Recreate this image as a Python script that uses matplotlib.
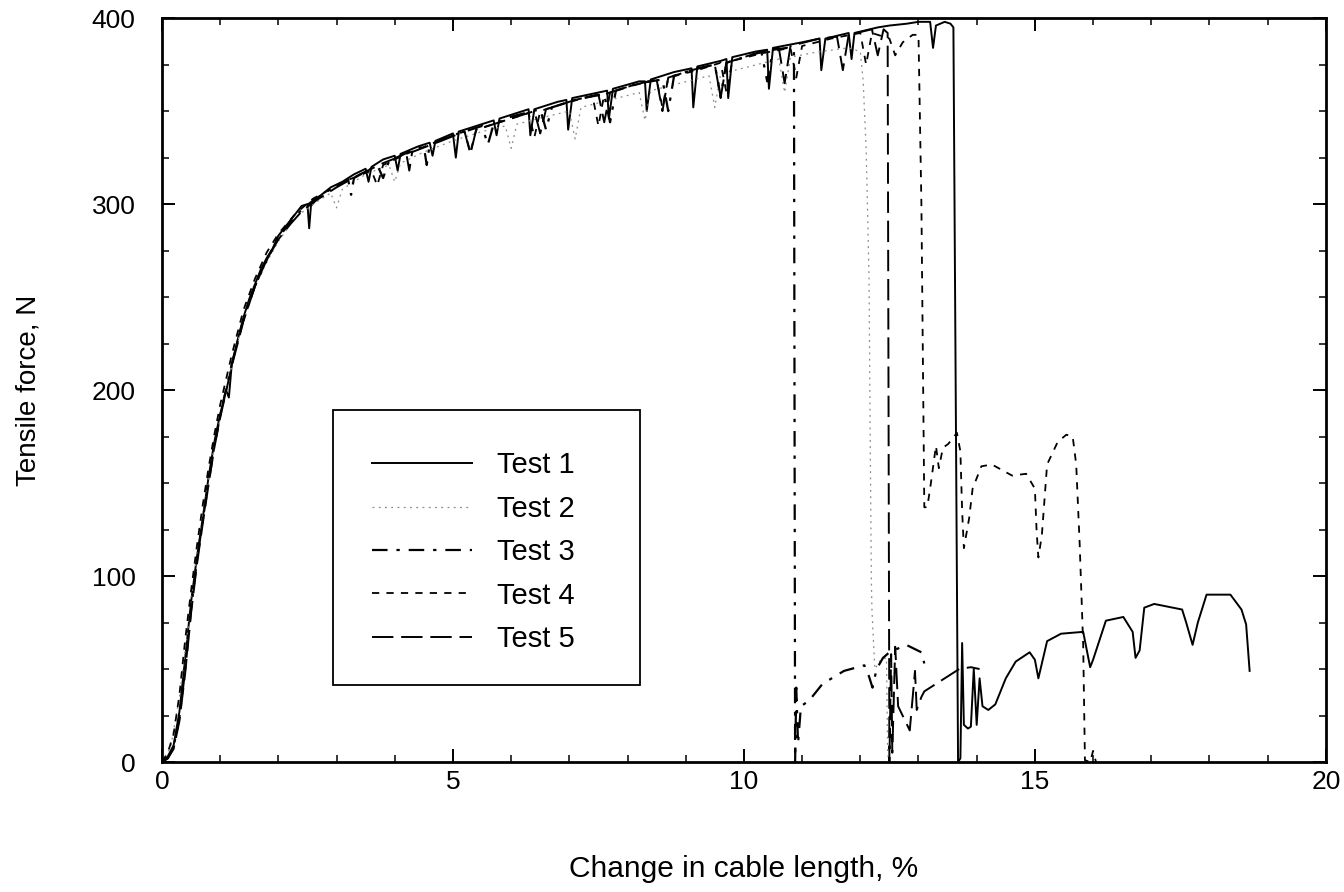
import matplotlib
matplotlib.use("Agg")
import matplotlib.pyplot as plt
from matplotlib.patches import Rectangle
import numpy as np

plt.rcParams['font.family'] = ['Liberation Sans', 'DejaVu Sans']

# values: [change in length %, force N]
test1 = np.array([
    [0, 0], [0.1, 3], [0.2, 9], [0.3, 27], [0.4, 56], [0.5, 86], [0.6, 110], [0.7, 131],
    [0.8, 153], [0.9, 172], [1.0, 187], [1.1, 200], [1.15, 196], [1.2, 214], [1.3, 227],
    [1.4, 239], [1.5, 249], [1.6, 257], [1.7, 265], [1.8, 271], [1.9, 276], [2.0, 283],
    [2.2, 291], [2.4, 299], [2.5, 300], [2.53, 287], [2.56, 299], [2.7, 304], [2.9, 309],
    [3.1, 312], [3.3, 316], [3.5, 319], [3.55, 312], [3.6, 320], [3.8, 324], [4.0, 326],
    [4.05, 318], [4.1, 327], [4.4, 331], [4.6, 333], [4.65, 326], [4.7, 334], [5.0, 338],
    [5.05, 325], [5.1, 339], [5.4, 342], [5.7, 345], [5.75, 337], [5.8, 346], [6.2, 350],
    [6.3, 351], [6.33, 337], [6.4, 351], [6.8, 355], [6.95, 356], [6.98, 340], [7.05, 357],
    [7.5, 360], [7.65, 361], [7.68, 346], [7.75, 362], [8.2, 366], [8.3, 366], [8.33, 350],
    [8.4, 367], [8.8, 371], [9.1, 373], [9.13, 352], [9.2, 374], [9.6, 377], [9.7, 378],
    [9.73, 357], [9.8, 379], [10.2, 382], [10.4, 383], [10.43, 362], [10.5, 384], [11.0, 387],
    [11.3, 389], [11.33, 372], [11.4, 389], [11.8, 392], [11.85, 378], [11.9, 392], [12.3, 395],
    [12.5, 396], [12.8, 397], [13.0, 398], [13.2, 398], [13.25, 384], [13.3, 396], [13.45, 398],
    [13.55, 397], [13.6, 395], [13.68, 0], [13.72, 2], [13.75, 64], [13.78, 20], [13.85, 18],
    [13.9, 19], [13.95, 50], [14.0, 20], [14.05, 45], [14.1, 30], [14.2, 28], [14.32, 31],
    [14.5, 45], [14.67, 54], [14.91, 59], [15.0, 55], [15.06, 45], [15.21, 65], [15.45, 69],
    [15.83, 70], [15.95, 51], [16.0, 55], [16.22, 76], [16.52, 78], [16.68, 70], [16.73, 56],
    [16.8, 60], [16.88, 83], [17.05, 85], [17.53, 82], [17.6, 75], [17.71, 63], [17.8, 75],
    [17.95, 90], [18.36, 90], [18.55, 82], [18.63, 74], [18.69, 49]])

test2 = np.array([
    [0, 0], [0.15, 8], [0.3, 35], [0.45, 72], [0.6, 112], [0.75, 142], [0.9, 170], [1.1, 199],
    [1.3, 226], [1.5, 247], [1.7, 263], [2.0, 280], [2.3, 293], [2.6, 300], [2.9, 306],
    [3.0, 298], [3.1, 308], [3.5, 316], [3.9, 321], [4.0, 312], [4.1, 322], [4.5, 328],
    [5.0, 334], [5.5, 339], [5.9, 342], [6.0, 330], [6.1, 343], [6.6, 347], [7.0, 350],
    [7.1, 335], [7.2, 352], [7.7, 356], [8.2, 360], [8.3, 345], [8.4, 361], [8.9, 365],
    [9.4, 369], [9.5, 352], [9.6, 370], [10.1, 374], [10.6, 378], [10.7, 360], [10.8, 379],
    [11.3, 382], [11.8, 384], [12.0, 382], [12.05, 366], [12.1, 330], [12.13, 290],
    [12.15, 260], [12.17, 175], [12.19, 98], [12.2, 82], [12.25, 50], [12.35, 55],
    [12.45, 56], [12.47, 4], [12.5, 0]])

test3 = np.array([
    [0, 0], [0.1, 2], [0.2, 8], [0.3, 24], [0.4, 50], [0.5, 82], [0.6, 108], [0.7, 130],
    [0.8, 150], [0.9, 170], [1.0, 186], [1.2, 214], [1.4, 238], [1.6, 256], [1.8, 270],
    [2.0, 282], [2.2, 290], [2.4, 297], [2.6, 302], [2.8, 306], [3.0, 310], [3.2, 313],
    [3.25, 305], [3.3, 314], [3.7, 321], [3.8, 314], [3.9, 323], [4.3, 329], [4.5, 331],
    [4.55, 321], [4.6, 332], [5.0, 337], [5.5, 342], [5.6, 332], [5.7, 343], [6.0, 347],
    [6.5, 351], [6.6, 340], [6.7, 352], [7.2, 357], [7.6, 359], [7.7, 344], [7.8, 361],
    [8.2, 365], [8.6, 367], [8.7, 350], [8.8, 369], [9.2, 373], [9.5, 375], [9.6, 358],
    [9.7, 376], [10.0, 379], [10.3, 382], [10.4, 366], [10.5, 383], [10.75, 384], [10.86, 383],
    [10.88, 0], [10.9, 40], [10.93, 10], [10.98, 30], [11.12, 33], [11.35, 42], [11.72, 49],
    [12.07, 52], [12.15, 46], [12.21, 40], [12.28, 50], [12.39, 56], [12.5, 59], [12.79, 63],
    [13.05, 59], [13.1, 53]])

test4 = np.array([
    [0, 0], [0.1, 5], [0.2, 15], [0.3, 36], [0.4, 66], [0.5, 92], [0.6, 116], [0.7, 138],
    [0.8, 158], [0.9, 176], [1.0, 192], [1.2, 219], [1.4, 243], [1.6, 260], [1.8, 274],
    [2.0, 284], [2.3, 295], [2.6, 303], [2.9, 308], [3.2, 313], [3.6, 318], [3.7, 310],
    [3.8, 321], [4.2, 327], [4.6, 332], [5.0, 337], [5.2, 339], [5.3, 328], [5.4, 340],
    [5.9, 345], [6.3, 349], [6.4, 336], [6.5, 350], [7.0, 355], [7.4, 358], [7.5, 342],
    [7.6, 359], [8.0, 363], [8.5, 367], [8.6, 352], [8.7, 368], [9.2, 372], [9.6, 376],
    [9.7, 360], [9.8, 377], [10.3, 381], [10.8, 384], [10.9, 368], [11.0, 385], [11.5, 389],
    [12.0, 392], [12.1, 375], [12.2, 392], [12.5, 389], [12.6, 380], [12.73, 387], [12.9, 391],
    [13.0, 391], [13.05, 300], [13.1, 137], [13.15, 137], [13.2, 147], [13.3, 170],
    [13.35, 158], [13.42, 169], [13.51, 171], [13.66, 177], [13.72, 167], [13.75, 135],
    [13.78, 115], [13.87, 131], [13.93, 147], [14.08, 159], [14.26, 160], [14.61, 154],
    [14.85, 155], [15.0, 147], [15.03, 124], [15.06, 110], [15.12, 122], [15.21, 160],
    [15.39, 172], [15.54, 176], [15.65, 175], [15.71, 160], [15.77, 117], [15.83, 63],
    [15.86, 1], [15.95, 0], [16.0, 6], [16.05, 0]])

test5 = np.array([
    [0, 0], [0.1, 2], [0.2, 7], [0.3, 22], [0.4, 48], [0.5, 80], [0.6, 106], [0.7, 128],
    [0.8, 149], [0.9, 169], [1.0, 185], [1.2, 213], [1.4, 237], [1.6, 256], [1.8, 270],
    [2.0, 281], [2.2, 289], [2.4, 296], [2.6, 301], [2.8, 305], [3.0, 309], [3.4, 316],
    [3.8, 322], [4.2, 327], [4.25, 318], [4.3, 328], [4.8, 334], [5.2, 339], [5.3, 327],
    [5.4, 340], [5.9, 345], [6.4, 350], [6.5, 338], [6.6, 351], [7.1, 356], [7.5, 359],
    [7.6, 344], [7.7, 360], [8.1, 364], [8.5, 367], [8.6, 350], [8.7, 368], [9.1, 372],
    [9.5, 375], [9.6, 357], [9.7, 376], [10.1, 380], [10.6, 384], [10.7, 365], [10.8, 385],
    [11.3, 389], [11.6, 390], [11.7, 372], [11.8, 391], [12.2, 394], [12.3, 380], [12.4, 394],
    [12.47, 392], [12.5, 0], [12.53, 58], [12.55, 5], [12.6, 62], [12.65, 30], [12.85, 17],
    [12.94, 49], [12.97, 28], [13.05, 35], [13.1, 38], [13.3, 42], [13.5, 46], [13.7, 50],
    [13.9, 51], [14.05, 50]])

fig = plt.figure(figsize=(13.44, 8.92), dpi=100)
ax = fig.add_axes([0.1205, 0.1457, 0.866, 0.834])

ax.plot(test1[:, 0], test1[:, 1], color='black', lw=1.4, ls='-', label='Test 1')
ax.plot(test2[:, 0], test2[:, 1], color='#8a8a8a', lw=0.9, ls=(0, (1.5, 3.5)), label='Test 2')
ax.plot(test3[:, 0], test3[:, 1], color='black', lw=1.6, ls=(0, (7, 4, 1.5, 4)), label='Test 3')
ax.plot(test4[:, 0], test4[:, 1], color='black', lw=1.3, ls=(0, (4, 4)), label='Test 4')
ax.plot(test5[:, 0], test5[:, 1], color='black', lw=1.4, ls=(0, (11, 4)), label='Test 5')

ax.set_xlim(0, 20)
ax.set_ylim(0, 400)
ax.set_xticks([0, 5, 10, 15, 20])
ax.set_yticks([0, 100, 200, 300, 400])
ax.set_xticks(np.arange(0, 21, 1), minor=True)
ax.set_yticks(np.arange(0, 401, 25), minor=True)
ax.tick_params(which='both', direction='in', top=True, right=True, labelsize=19)
ax.tick_params(which='major', length=9.5, width=1.4, pad=6)
ax.tick_params(axis='y', which='major', pad=19)
ax.tick_params(which='minor', length=5, width=1.1)
for s in ax.spines.values():
    s.set_linewidth(2)

ax.set_xlabel('Change in cable length, %', fontsize=21.5, labelpad=44)
ax.set_ylabel('Tensile force, N', fontsize=20, labelpad=36)

# legend box drawn by hand so its size matches the original
ax.add_patch(Rectangle((0.147, 0.103), 0.264, 0.370, transform=ax.transAxes,
                       facecolor='white', edgecolor='black', lw=1.3, zorder=4))
leg = ax.legend(loc='center left', bbox_to_anchor=(0.1804, 0.282), frameon=False,
                fontsize=21, handlelength=3.42, handletextpad=0.86, labelspacing=0.53,
                borderpad=0, borderaxespad=0)
leg.set_zorder(5)

fig.savefig('out.png', dpi=100)
